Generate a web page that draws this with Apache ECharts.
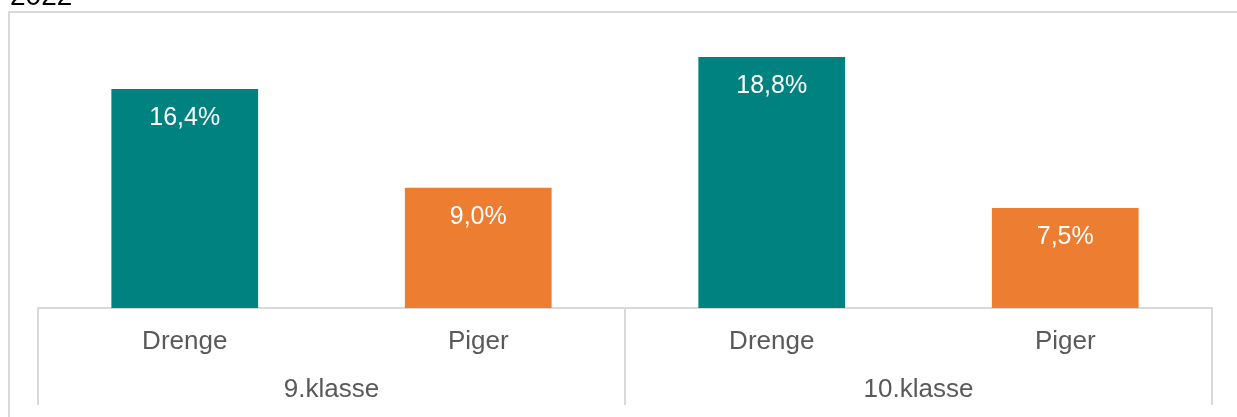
<!DOCTYPE html>
<html>
<head>
<meta charset="utf-8">
<script src="https://cdn.jsdelivr.net/npm/echarts@6/dist/echarts.min.js"></script>
<style>
  html, body { margin: 0; padding: 0; background: #fff; }
  #chart { width: 1237px; height: 417px; }
</style>
</head>
<body>
<div id="chart"></div>
<script>
const titleText = '2022';
const categories = ['Drenge', 'Piger', 'Drenge', 'Piger'];
const groups = ['9.klasse', '10.klasse'];
const values = [16.4, 9.0, 18.8, 7.5];
const barColors = ['#008281', '#ED7D31', '#008281', '#ED7D31'];

const font = "'Liberation Sans', Arial, sans-serif";
const chart = echarts.init(document.getElementById('chart'));
chart.setOption({
  animation: false,
  backgroundColor: '#fff',
  title: {
    text: titleText, left: 5, top: -22,
    textStyle: { fontFamily: font, fontSize: 28, fontWeight: 'normal', color: '#000' }
  },
  graphic: [{
    type: 'rect', z: -1,
    shape: { x: 9, y: 12, width: 1240, height: 420 },
    style: { fill: 'none', stroke: '#d9d9d9', lineWidth: 2 }
  }],
  grid: { left: 38, right: 25, top: 41, bottom: 109 },
  xAxis: [{
    type: 'category', data: categories, position: 'bottom',
    axisLine: { show: true, lineStyle: { color: '#d9d9d9', width: 2 } },
    axisTick: { show: false },
    axisLabel: { color: '#595959', fontFamily: font, fontSize: 26, margin: 21 }
  }, {
    type: 'category', data: groups, position: 'bottom', offset: 0,
    axisLine: { show: false },
    axisTick: { show: true, length: 97, lineStyle: { color: '#d9d9d9', width: 2 } },
    axisLabel: { color: '#595959', fontFamily: font, fontSize: 26, margin: 69 }
  }],
  yAxis: { type: 'value', min: 0, max: 20, show: false, splitLine: { show: false } },
  series: [{
    type: 'bar', xAxisIndex: 0, barWidth: '50%',
    data: values.map((v, i) => ({ value: v, itemStyle: { color: barColors[i] } })),
    label: {
      show: true, position: 'insideTop', distance: 17,
      color: '#fff', fontFamily: font, fontSize: 25,
      formatter: p => p.value.toFixed(1).replace('.', ',') + '%'
    }
  }]
});
</script>
</body>
</html>
